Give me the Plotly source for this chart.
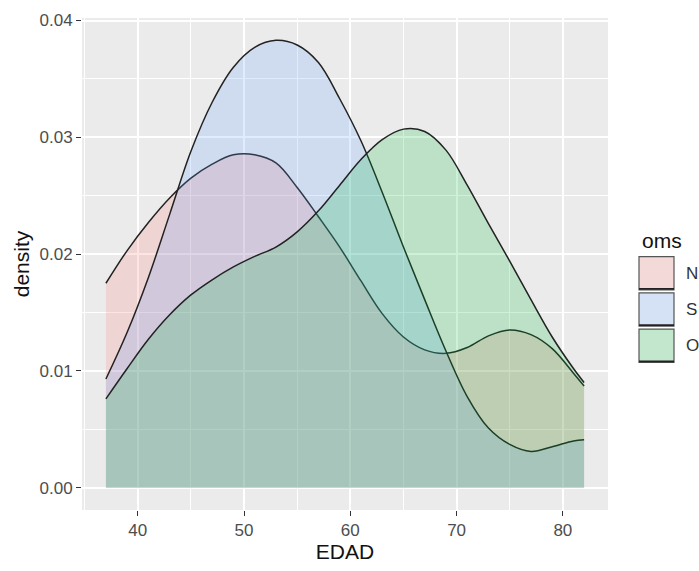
import plotly.graph_objects as go

# Age grid (years) and kernel density estimates per oms group
edad = [37, 39, 41, 43, 45, 47, 49, 51, 53, 55, 57, 59, 61, 63, 65, 67, 69, 71, 73, 75, 77, 79, 81, 82]

dens_n = [0.0175, 0.0203, 0.0227, 0.0248, 0.0265, 0.0277, 0.0285, 0.0285, 0.0278, 0.0257,
          0.0232, 0.0206, 0.0177, 0.0149, 0.0129, 0.0118, 0.0115, 0.0120, 0.0130, 0.0135,
          0.0131, 0.0119, 0.0098, 0.0087]
dens_s = [0.0093, 0.0133, 0.0180, 0.0234, 0.0288, 0.0330, 0.0360, 0.0377, 0.0383, 0.0379,
          0.0364, 0.0333, 0.0297, 0.0253, 0.0206, 0.0161, 0.0117, 0.0078, 0.0051, 0.0037,
          0.0031, 0.0035, 0.0040, 0.0041]
dens_o = [0.0076, 0.0102, 0.0127, 0.0148, 0.0165, 0.0178, 0.0189, 0.0198, 0.0206, 0.0219,
          0.0237, 0.0259, 0.0281, 0.0298, 0.0307, 0.0305, 0.0289, 0.0259, 0.0226, 0.0194,
          0.0161, 0.0129, 0.0102, 0.0090]

groups = ["N", "S", "O"]
fills = ["rgba(248,118,109,0.2)", "rgba(97,156,255,0.2)", "rgba(0,186,56,0.2)"]
key_fills = ["rgb(243,217,215)", "rgb(213,225,245)", "rgb(194,231,205)"]
x_ticks = [40, 50, 60, 70, 80]
y_ticks = [0.00, 0.01, 0.02, 0.03, 0.04]

FONT = "Liberation Sans, Arial, sans-serif"
W, H = 699, 571
ML, MR, MT, MB = 82, 91, 14, 54

fig = go.Figure()
for name, dens, fc in zip(groups, [dens_n, dens_s, dens_o], fills):
    fig.add_trace(go.Scatter(
        x=edad, y=dens, name=name, mode="lines",
        line=dict(color="#222222", width=1.5, shape="spline", smoothing=1.0),
        fill="tozeroy", fillcolor=fc, showlegend=False, hoverinfo="x+y+name",
    ))

# ggplot-style 5% expansion of both scales
xmin, xmax = min(edad), max(edad)
xpad = 0.05 * (xmax - xmin)
ymax = max(max(dens_n), max(dens_s), max(dens_o))
ypad = 0.05 * ymax

grid_common = dict(showline=False, zeroline=False, gridcolor="white", gridwidth=1.8,
                   ticks="outside", ticklen=5, tickwidth=1.3, tickcolor="#333333",
                   tickfont=dict(family=FONT, size=17, color="#4D4D4D"))

fig.update_xaxes(range=[xmin - xpad, xmax + xpad], tickvals=x_ticks,
                 minor=dict(dtick=5, tick0=0, showgrid=True, gridcolor="white", gridwidth=0.9),
                 title=dict(text="EDAD", font=dict(family=FONT, size=21, color="#111111"), standoff=4),
                 **grid_common)
fig.update_yaxes(range=[-ypad, ymax + ypad], tickvals=y_ticks, tickformat=".2f",
                 minor=dict(dtick=0.005, tick0=0, showgrid=True, gridcolor="white", gridwidth=0.9),
                 title=dict(text="density", font=dict(family=FONT, size=21, color="#111111"), standoff=4),
                 **grid_common)

# Legend drawn by hand: title, filled keys with outlines, labels
pw, ph = W - ML - MR, H - MT - MB
def px_x(p):
    return (p - ML) / pw
def px_y(q):
    return (H - MB - q) / ph

shapes = []
annotations = [dict(text="oms", x=px_x(640), y=px_y(241), xref="paper", yref="paper",
                    xanchor="left", yanchor="middle", showarrow=False,
                    font=dict(family=FONT, size=21, color="#111111"))]
key_tops = [258, 295, 332]
for name, kf, top in zip(groups, key_fills, key_tops):
    shapes.append(dict(type="rect", xref="paper", yref="paper",
                       x0=px_x(639), x1=px_x(674), y0=px_y(top + 34), y1=px_y(top),
                       fillcolor=kf, line=dict(color="#555555", width=1.2), layer="above"))
    shapes.append(dict(type="line", xref="paper", yref="paper",
                       x0=px_x(639), x1=px_x(674), y0=px_y(top + 33), y1=px_y(top + 33),
                       line=dict(color="#222222", width=1.8)))
    annotations.append(dict(text=name, x=px_x(684), y=px_y(top + 17), xref="paper", yref="paper",
                            xanchor="left", yanchor="middle", showarrow=False,
                            font=dict(family=FONT, size=17, color="#333333")))

fig.update_layout(
    width=W, height=H, autosize=False,
    margin=dict(l=ML, r=MR, t=MT, b=MB),
    plot_bgcolor="#EBEBEB", paper_bgcolor="white",
    showlegend=False, shapes=shapes, annotations=annotations,
    font=dict(family=FONT),
)

fig.write_html("out.html")
